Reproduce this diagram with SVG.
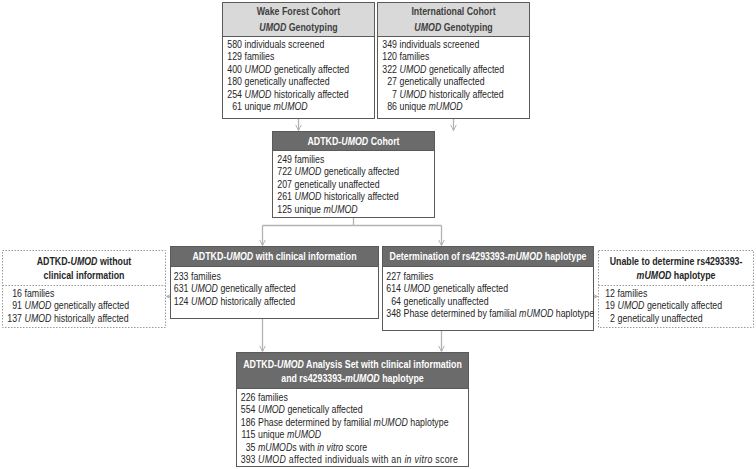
<svg xmlns="http://www.w3.org/2000/svg" width="756" height="469" viewBox="0 0 756 469">
<defs>
<style>
text{font-family:"Liberation Sans",Arial,sans-serif;font-size:10.5px;fill:#262626}
.i{font-style:italic}
.n{text-anchor:end}
.h{font-weight:bold;text-anchor:middle;fill:#404040}
.hk{font-weight:bold;text-anchor:middle;fill:#262626}
.hw{font-weight:bold;text-anchor:middle;fill:#ffffff}
.box{fill:#ffffff;stroke:#5a5a5a;stroke-width:1}
.dbox{fill:#ffffff;stroke:#9a9a9a;stroke-width:1;stroke-dasharray:1.5 1.5}
.dl{fill:none;stroke:#9a9a9a;stroke-width:1;stroke-dasharray:1.5 1.5}
.lh{fill:#d9d9d9;stroke:#5a5a5a;stroke-width:1}
.dh{fill:#6b6b6b;stroke:#5a5a5a;stroke-width:1}
.c{fill:none;stroke:#b3b3b3;stroke-width:1.3}
</style>
<marker id="a" viewBox="0 0 10 10" refX="9" refY="5" markerWidth="7" markerHeight="7" orient="auto" markerUnits="userSpaceOnUse">
<path d="M1,1 L9,5 L1,9" fill="none" stroke="#b3b3b3" stroke-width="1.4"/>
</marker>
</defs>
<rect width="756" height="469" fill="#ffffff"/>

<g id="connectors">
<path class="c" d="M298.5,118.5 V130.5" marker-end="url(#a)"/>
<path class="c" d="M453.5,118.5 V130.5" marker-end="url(#a)"/>
<path class="c" d="M353.5,217.5 V225.5"/>
<path class="c" d="M262.5,225.5 H441.5"/>
<path class="c" d="M262.5,225.5 V245.5" marker-end="url(#a)"/>
<path class="c" d="M441.5,225.5 V245.5" marker-end="url(#a)"/>
<path class="c" d="M177,296.5 H166.5" marker-end="url(#a)"/>
<path class="c" d="M590,296.5 H597.5" marker-end="url(#a)"/>
<path class="c" d="M262.5,318.5 V351.5" marker-end="url(#a)"/>
<path class="c" d="M441.5,330.5 V351.5" marker-end="url(#a)"/>
</g>

<g id="wake-forest">
<rect class="box" x="222.5" y="2.5" width="152" height="116"/>
<rect class="lh" x="222.5" y="2.5" width="152" height="34"/>
<g transform="translate(298.5,0) scale(0.84,1)">
<text class="h" x="0" y="15.5">Wake Forest Cohort</text>
<text class="h" x="0" y="31"><tspan class="i">UMOD</tspan> Genotyping</text>
</g>
<g transform="translate(242,0) scale(0.84,1)">
<text class="n" x="0" y="48">580</text><text x="3" y="48">individuals screened</text>
<text class="n" x="0" y="60.5">129</text><text x="3" y="60.5">families</text>
<text class="n" x="0" y="73">400</text><text x="3" y="73"><tspan class="i">UMOD</tspan> genetically affected</text>
<text class="n" x="0" y="85.5">180</text><text x="3" y="85.5">genetically unaffected</text>
<text class="n" x="0" y="98">254</text><text x="3" y="98"><tspan class="i">UMOD</tspan> historically affected</text>
<text class="n" x="0" y="110.5">61</text><text x="3" y="110.5">unique <tspan class="i">mUMOD</tspan></text>
</g>
</g>

<g id="international">
<rect class="box" x="377.5" y="2.5" width="152" height="116"/>
<rect class="lh" x="377.5" y="2.5" width="152" height="34"/>
<g transform="translate(453.5,0) scale(0.84,1)">
<text class="h" x="0" y="15.5">International Cohort</text>
<text class="h" x="0" y="31"><tspan class="i">UMOD</tspan> Genotyping</text>
</g>
<g transform="translate(397,0) scale(0.84,1)">
<text class="n" x="0" y="48">349</text><text x="3" y="48">individuals screened</text>
<text class="n" x="0" y="60.5">120</text><text x="3" y="60.5">families</text>
<text class="n" x="0" y="73">322</text><text x="3" y="73"><tspan class="i">UMOD</tspan> genetically affected</text>
<text class="n" x="0" y="85.5">27</text><text x="3" y="85.5">genetically unaffected</text>
<text class="n" x="0" y="98">7</text><text x="3" y="98"><tspan class="i">UMOD</tspan> historically affected</text>
<text class="n" x="0" y="110.5">86</text><text x="3" y="110.5">unique <tspan class="i">mUMOD</tspan></text>
</g>
</g>

<g id="cohort">
<rect class="box" x="272.5" y="131.5" width="162" height="86"/>
<rect class="dh" x="272.5" y="131.5" width="162" height="19"/>
<g transform="translate(353.5,0) scale(0.84,1)">
<text class="hw" x="0" y="145">ADTKD-<tspan class="i">UMOD</tspan> Cohort</text>
</g>
<g transform="translate(292,0) scale(0.84,1)">
<text class="n" x="0" y="163">249</text><text x="3" y="163">families</text>
<text class="n" x="0" y="175.5">722</text><text x="3" y="175.5"><tspan class="i">UMOD</tspan> genetically affected</text>
<text class="n" x="0" y="188">207</text><text x="3" y="188">genetically unaffected</text>
<text class="n" x="0" y="200.5">261</text><text x="3" y="200.5"><tspan class="i">UMOD</tspan> historically affected</text>
<text class="n" x="0" y="213">125</text><text x="3" y="213">unique <tspan class="i">mUMOD</tspan></text>
</g>
</g>

<g id="without-clinical">
<rect class="dbox" x="2.5" y="250.5" width="163" height="77"/>
<path class="dl" d="M2.5,285.5 H165.5"/>
<g transform="translate(84,0) scale(0.84,1)">
<text class="hk" x="0" y="265">ADTKD-<tspan class="i">UMOD</tspan> without</text>
<text class="hk" x="0" y="279">clinical information</text>
</g>
<g transform="translate(22,0) scale(0.84,1)">
<text class="n" x="0" y="297">16</text><text x="3" y="297">families</text>
<text class="n" x="0" y="309.5">91</text><text x="3" y="309.5"><tspan class="i">UMOD</tspan> genetically affected</text>
<text class="n" x="0" y="322">137</text><text x="3" y="322"><tspan class="i">UMOD</tspan> historically affected</text>
</g>
</g>

<g id="with-clinical">
<rect class="box" x="170.5" y="246.5" width="208" height="72"/>
<rect class="dh" x="170.5" y="246.5" width="208" height="20"/>
<g transform="translate(274.5,0) scale(0.84,1)">
<text class="hw" x="0" y="260.5">ADTKD-<tspan class="i">UMOD</tspan> with clinical information</text>
</g>
<g transform="translate(188.5,0) scale(0.84,1)">
<text class="n" x="0" y="280">233</text><text x="3" y="280">families</text>
<text class="n" x="0" y="292.5">631</text><text x="3" y="292.5"><tspan class="i">UMOD</tspan> genetically affected</text>
<text class="n" x="0" y="305">124</text><text x="3" y="305"><tspan class="i">UMOD</tspan> historically affected</text>
</g>
</g>

<g id="haplotype">
<rect class="box" x="382.5" y="246.5" width="211" height="84"/>
<rect class="dh" x="382.5" y="246.5" width="211" height="20"/>
<g transform="translate(488,0) scale(0.84,1)">
<text class="hw" x="0" y="260.5">Determination of rs4293393-<tspan class="i">mUMOD</tspan> haplotype</text>
</g>
<g transform="translate(401,0) scale(0.84,1)">
<text class="n" x="0" y="280">227</text><text x="3" y="280">families</text>
<text class="n" x="0" y="292.5">614</text><text x="3" y="292.5"><tspan class="i">UMOD</tspan> genetically affected</text>
<text class="n" x="0" y="305">64</text><text x="3" y="305">genetically unaffected</text>
<text class="n" x="0" y="317.5">348</text><text x="3" y="317.5">Phase determined by familial <tspan class="i">mUMOD</tspan> haplotype</text>
</g>
</g>

<g id="unable">
<rect class="dbox" x="598.5" y="250.5" width="155" height="77"/>
<path class="dl" d="M598.5,285.5 H753.5"/>
<g transform="translate(676,0) scale(0.84,1)">
<text class="hk" x="0" y="265">Unable to determine rs4293393-</text>
<text class="hk" x="0" y="279"><tspan class="i">mUMOD</tspan> haplotype</text>
</g>
<g transform="translate(615,0) scale(0.84,1)">
<text class="n" x="0" y="297">12</text><text x="3" y="297">families</text>
<text class="n" x="0" y="309.5">19</text><text x="3" y="309.5"><tspan class="i">UMOD</tspan> genetically affected</text>
<text class="n" x="0" y="322">2</text><text x="3" y="322">genetically unaffected</text>
</g>
</g>

<g id="analysis-set">
<rect class="box" x="236.5" y="352.5" width="232" height="114"/>
<rect class="dh" x="236.5" y="352.5" width="232" height="36"/>
<g transform="translate(352.5,0) scale(0.84,1)">
<text class="hw" x="0" y="368">ADTKD-<tspan class="i">UMOD</tspan> Analysis Set with clinical information</text>
<text class="hw" x="0" y="382.5">and rs4293393-<tspan class="i">mUMOD</tspan> haplotype</text>
</g>
<g transform="translate(255.5,0) scale(0.84,1)">
<text class="n" x="0" y="401">226</text><text x="3" y="401">families</text>
<text class="n" x="0" y="413.5">554</text><text x="3" y="413.5"><tspan class="i">UMOD</tspan> genetically affected</text>
<text class="n" x="0" y="426">186</text><text x="3" y="426">Phase determined by familial <tspan class="i">mUMOD</tspan> haplotype</text>
<text class="n" x="0" y="438.5">115</text><text x="3" y="438.5">unique <tspan class="i">mUMOD</tspan></text>
<text class="n" x="0" y="451">35</text><text x="3" y="451"><tspan class="i">mUMOD</tspan>s with <tspan class="i">in vitro</tspan> score</text>
<text class="n" x="0" y="463.5">393</text><text x="3" y="463.5" textLength="238" lengthAdjust="spacing"><tspan class="i">UMOD</tspan> affected individuals with an <tspan class="i">in vitro</tspan> score</text>
</g>
</g>
</svg>
